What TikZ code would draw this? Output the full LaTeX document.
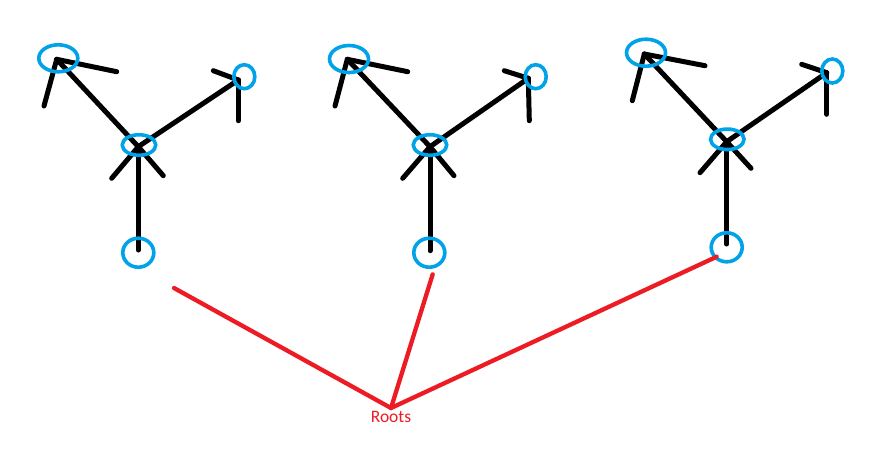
\documentclass[tikz,border=0pt]{standalone}
\usepackage{fontspec}
\setmainfont{Carlito}
\usetikzlibrary{shapes.geometric}
\definecolor{paintblue}{HTML}{00A2E8}
\definecolor{paintred}{HTML}{ED1C24}
\pgfdeclarelayer{bg}
\pgfsetlayers{bg,main}
\tikzset{
  blk/.style={draw=black, line width=5pt, line cap=round},
  redln/.style={draw=paintred, line width=4.3pt, line cap=round},
  ring/.style={draw=paintblue, line width=3.6pt, ellipse, inner sep=0pt},
  tl/.style={ring, minimum width=39pt, minimum height=27pt},
  cn/.style={ring, minimum width=33.5pt, minimum height=20.5pt},
  tr/.style={ring, minimum width=21pt, minimum height=24pt},
  bt/.style={ring, minimum width=31pt, minimum height=29pt},
}
\begin{document}
\begin{tikzpicture}[x=1pt,y=-1pt]
\begin{pgfonlayer}{bg}
\fill[white] (0,0) rectangle (890,451);
\end{pgfonlayer}
\useasboundingbox (0,0) rectangle (890,451);
% ---------- tree 1 ----------
\node[tl] (tlA) at (58.3,58.3) {};
\node[tr] (trA) at (244.3,76.7) {};
\node[cn] (cA) at (139,145) {};
\node[bt] (bA) at (138.3,252.7) {};
\coordinate (vtlA) at (56.7,59.3);
\coordinate (vtrA) at (238.3,80);
\coordinate (vcA) at (138.3,146.7);
\coordinate (e1A) at (116.7,71.7);
\coordinate (e2A) at (44,106);
\coordinate (e3A) at (213.3,70.7);
\coordinate (e4A) at (238.3,120.7);
\coordinate (e5A) at (111.7,178.3);
\coordinate (e6A) at (163.3,175.7);
\coordinate (e7A) at (138.3,250);
% ---------- tree 2 ----------
\node[tl] (tlB) at (349,59) {};
\node[tr] (trB) at (535.7,76.7) {};
\node[cn] (cB) at (430,145) {};
\node[bt] (bB) at (429.3,252.7) {};
\coordinate (vtlB) at (347.3,59.3);
\coordinate (vtrB) at (528.3,78.3);
\coordinate (vcB) at (430,146.7);
\coordinate (e1B) at (407.7,71.7);
\coordinate (e2B) at (335,106);
\coordinate (e3B) at (504.3,70.7);
\coordinate (e4B) at (529.3,120.7);
\coordinate (e5B) at (402.7,178.3);
\coordinate (e6B) at (454,175.7);
\coordinate (e7B) at (430,250.7);
% ---------- tree 3 ----------
\node[tl] (tlC) at (646,52.7) {};
\node[tr] (trC) at (832.3,71) {};
\node[cn] (cC) at (727.3,139.3) {};
\node[bt] (bC) at (726.7,247.3) {};
\coordinate (vtlC) at (644.3,54);
\coordinate (vtrC) at (826.7,72.7);
\coordinate (vcC) at (726.7,141.7);
\coordinate (e1C) at (705,65.7);
\coordinate (e2C) at (632.3,100.7);
\coordinate (e3C) at (801.7,64.3);
\coordinate (e4C) at (826.7,114.3);
\coordinate (e5C) at (700,172.7);
\coordinate (e6C) at (751,168.3);
\coordinate (e7C) at (726.7,244);
% ---------- black strokes (under the rings) ----------
\begin{pgfonlayer}{bg}
\foreach \t in {A,B,C}{
  \draw[blk] (vtl\t) -- (e1\t);
  \draw[blk] (vtl\t) -- (e2\t);
  \draw[blk] (vtr\t) -- (e3\t);
  \draw[blk] (vtr\t) -- (e4\t);
  \draw[blk] (vc\t) -- (vtl\t);
  \draw[blk] (vc\t) -- (vtr\t);
  \draw[blk] (vc\t) -- (e5\t);
  \draw[blk] (vc\t) -- (e6\t);
  \draw[blk] (vc\t) -- (e7\t);
}
\end{pgfonlayer}
% ---------- roots ----------
\coordinate (apex) at (391,408);
\coordinate (rA) at (174,288);
\coordinate (rB) at (432.7,274.3);
\coordinate (rC) at (716.7,256.7);
\draw[redln] (rA) -- (apex) -- (rC);
\draw[redln] (rB) -- (apex);
\node[text=paintred, font=\fontsize{17.5}{20}\selectfont, inner sep=0pt, anchor=north] (roots) at (391,411) {Roots};
\end{tikzpicture}
\end{document}
